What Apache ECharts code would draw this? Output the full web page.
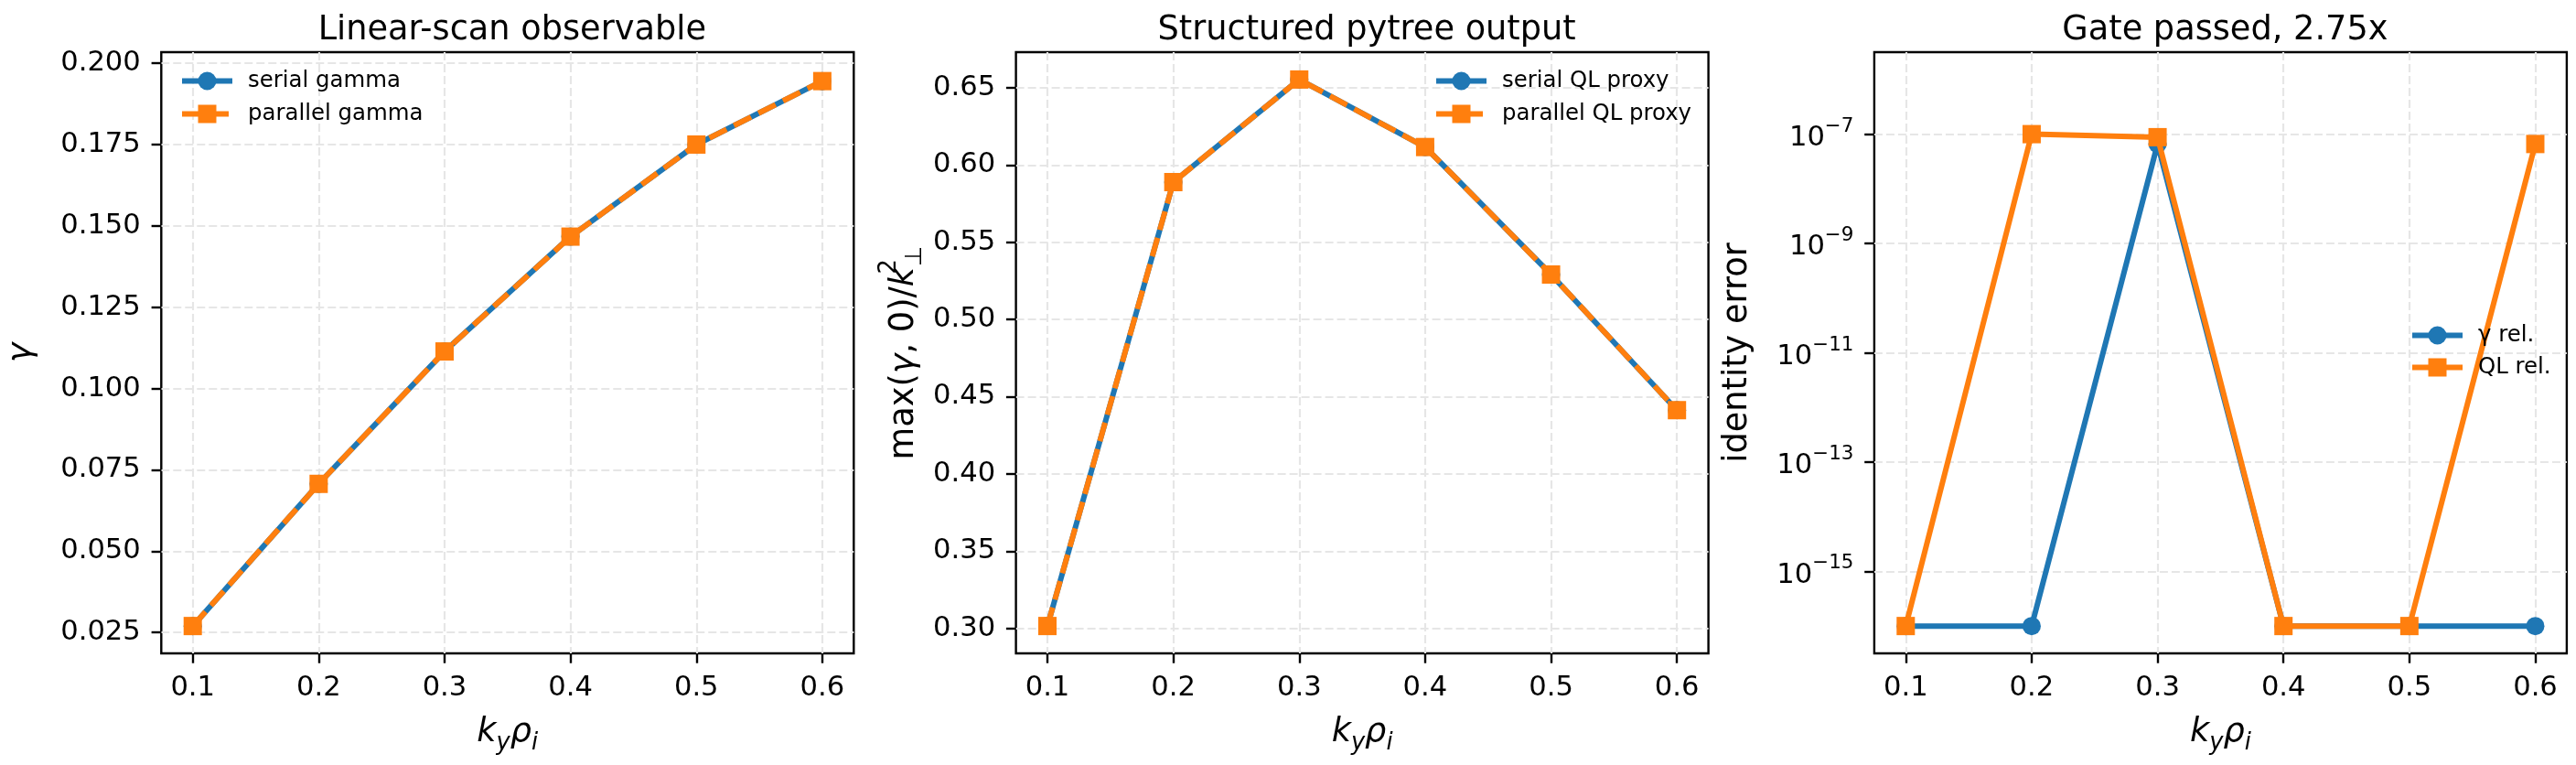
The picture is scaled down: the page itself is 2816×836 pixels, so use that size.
<!DOCTYPE html>
<html>
<head>
<meta charset="utf-8">
<script src="https://cdn.jsdelivr.net/npm/echarts@6/dist/echarts.min.js"></script>
<style>
  html, body { margin: 0; padding: 0; background: #fff; }
  #main { width: 2816px; height: 836px; }
</style>
</head>
<body>
<div id="main"></div>
<script>
// data
const kyRho = [0.1, 0.2, 0.3, 0.4, 0.5, 0.6];
const serialGamma = [0.027, 0.0707, 0.1114, 0.1467, 0.175, 0.1945];
const parallelGamma = [0.027, 0.0707, 0.1114, 0.1467, 0.175, 0.1945];
const serialQL = [0.3016, 0.5889, 0.6553, 0.6116, 0.5291, 0.4413];
const parallelQL = [0.3016, 0.5889, 0.6553, 0.6116, 0.5291, 0.4413];
const gammaRelErr = [1e-16, 1e-16, 6.6e-8, 1e-16, 1e-16, 1e-16];
const qlRelErr = [1e-16, 1.0e-7, 8.8e-8, 1e-16, 1e-16, 6.6e-8];
const gateThreshold = 1e-6;

// tick labels
const xTicks = [0.1, 0.2, 0.3, 0.4, 0.5, 0.6];
const gammaTicks = [0.025, 0.05, 0.075, 0.1, 0.125, 0.15, 0.175, 0.2];
const qlTicks = [0.3, 0.35, 0.4, 0.45, 0.5, 0.55, 0.6, 0.65];
const errTicks = [1e-15, 1e-13, 1e-11, 1e-9, 1e-7];

const FONT = "DejaVu Sans";
const BLUE = "#1f77b4";
const ORANGE = "#ff7f0e";

const pairs = (ys) => kyRho.map((x, i) => [x, ys[i]]);

// axis titles (12pt) with sub/superscripts
const big = { fontFamily: FONT, fontSize: 36.7, lineHeight: 52, color: "#000" };
const bigSmall = { fontFamily: FONT, fontSize: 25.7, lineHeight: 52, color: "#000" };
const nameRich = {
  r: { ...big },
  i: { ...big, fontStyle: "italic" },
  si: { ...bigSmall, fontStyle: "italic", verticalAlign: "bottom", height: 27 },
  s: { ...bigSmall, verticalAlign: "bottom", height: 27 },
  p0: { ...bigSmall, verticalAlign: "top", height: 21, width: 1 },
};

// log tick labels (10pt) with superscript exponent
const tickRich = {
  r: { fontFamily: FONT, fontSize: 30.6, lineHeight: 44, color: "#000" },
  p: { fontFamily: FONT, fontSize: 21.4, lineHeight: 44, color: "#000", verticalAlign: "top", height: 18 },
};

const grids = [
  { left: 176.3, top: 57, width: 757, height: 657 },
  { left: 1110.6, top: 57, width: 757, height: 657 },
  { left: 2048.9, top: 57, width: 757, height: 657 },
];

const gridLine = { show: true, lineStyle: { color: "#e6e6e6", width: 2.2, type: [9, 4] } };
const tick = { show: true, inside: false, length: 10.7, lineStyle: { color: "#000", width: 2.4 } };
const labelText = { fontFamily: FONT, fontSize: 30.6, color: "#000", lineHeight: 36 };

function xAxisFor(idx) {
  return {
    type: "value",
    gridIndex: idx,
    min: 0.075,
    max: 0.625,
    axisLine: { show: false },
    axisTick: { ...tick, customValues: xTicks },
    axisLabel: { ...labelText, margin: 20, customValues: xTicks, formatter: (v) => v.toFixed(1) },
    splitLine: gridLine,
    name: "{i|k}{si|y}{i|ρ}{si|i}",
    nameLocation: "middle",
    nameGap: 60,
    nameMoveOverlap: false,
    nameTextStyle: { rich: nameRich },
  };
}

const yAxes = [
  {
    type: "value",
    gridIndex: 0,
    min: 0.0186,
    max: 0.2034,
    axisLine: { show: false },
    axisTick: { ...tick, customValues: gammaTicks },
    axisLabel: { ...labelText, margin: 22.5, customValues: gammaTicks, formatter: (v) => v.toFixed(3) },
    splitLine: gridLine,
    name: "{i|γ}",
    nameLocation: "middle",
    nameGap: 127,
    nameMoveOverlap: false,
    nameTextStyle: { rich: nameRich },
  },
  {
    type: "value",
    gridIndex: 1,
    min: 0.2839,
    max: 0.673,
    axisLine: { show: false },
    axisTick: { ...tick, customValues: qlTicks },
    axisLabel: { ...labelText, margin: 22.5, customValues: qlTicks, formatter: (v) => v.toFixed(2) },
    splitLine: gridLine,
    name: "{r|max(}{i|γ}{r|, 0)/}{i|k}{p0|2}{s|⊥}",
    nameLocation: "middle",
    nameGap: 96.6,
    nameMoveOverlap: false,
    nameTextStyle: { rich: nameRich },
  },
  {
    type: "log",
    logBase: 10,
    gridIndex: 2,
    min: Math.pow(10, -16.5),
    max: Math.pow(10, -5.5),
    axisLine: { show: false },
    axisTick: { ...tick, customValues: errTicks },
    axisLabel: {
      margin: 22.5,
      padding: [9, 0, 0, 0],
      customValues: errTicks,
      formatter: (v) => "{r|10}{p|−" + Math.abs(Math.round(Math.log10(v))) + "}",
      rich: tickRich,
    },
    splitLine: gridLine,
    name: "{r|identity error}",
    nameLocation: "middle",
    nameGap: 123,
    nameMoveOverlap: false,
    nameTextStyle: { rich: nameRich },
  },
];

function lineSeries(name, idx, ys, color, symbol, dashed, z) {
  return {
    name,
    type: "line",
    xAxisIndex: idx,
    yAxisIndex: idx,
    data: pairs(ys),
    z,
    symbol,
    symbolSize: 20,
    showSymbol: true,
    showAllSymbol: true,
    color,
    itemStyle: { color, borderWidth: 0 },
    lineStyle: { color, width: 6, type: dashed ? [21, 9] : "solid" },
    emphasis: { disabled: true },
    animation: false,
  };
}

const gammaSeries = lineSeries("γ rel.", 2, gammaRelErr, BLUE, "circle", false, 2);
gammaSeries.markLine = {
  silent: true,
  symbol: ["none", "none"],
  label: { show: false },
  lineStyle: { color: BLUE, width: 3, type: [3, 5] },
  data: [{ yAxis: gateThreshold }],
  animation: false,
};

const legendBase = {
  orient: "vertical",
  padding: 0,
  itemWidth: 55,
  itemHeight: 25,
  itemGap: 12,
  selectedMode: false,
  lineStyle: { width: 6 },
  textStyle: { fontFamily: FONT, fontSize: 24.4, color: "#000", padding: [0, 0, 0, 12] },
};

const titleStyle = { fontFamily: FONT, fontSize: 36.7, fontWeight: "normal", color: "#000", lineHeight: 44 };

const option = {
  backgroundColor: "#fff",
  animation: false,
  title: [
    { text: "Linear-scan observable", left: 176.3 + 378.5, top: 6, textAlign: "center", textStyle: titleStyle },
    { text: "Structured pytree output", left: 1110.6 + 378.5, top: 6, textAlign: "center", textStyle: titleStyle },
    { text: "Gate passed, 2.75x", left: 2048.9 + 378.5, top: 6, textAlign: "center", textStyle: titleStyle },
  ],
  legend: [
    { ...legendBase, data: ["serial gamma", "parallel gamma"], left: 196, top: 76.5 },
    { ...legendBase, data: ["serial QL proxy", "parallel QL proxy"], left: 1567, top: 76.5 },
    { ...legendBase, data: ["γ rel.", "QL rel."], left: 2634, top: 354.5, itemGap: 11 },
  ],
  grid: grids.map((g) => ({
    ...g,
    show: true,
    borderColor: "#000",
    borderWidth: 2.4,
    backgroundColor: "transparent",
    containLabel: false,
    outerBoundsMode: "none",
  })),
  xAxis: [xAxisFor(0), xAxisFor(1), xAxisFor(2)],
  yAxis: yAxes,
  series: [
    lineSeries("serial gamma", 0, serialGamma, BLUE, "circle", false, 2),
    lineSeries("parallel gamma", 0, parallelGamma, ORANGE, "rect", true, 3),
    lineSeries("serial QL proxy", 1, serialQL, BLUE, "circle", false, 2),
    lineSeries("parallel QL proxy", 1, parallelQL, ORANGE, "rect", true, 3),
    gammaSeries,
    lineSeries("QL rel.", 2, qlRelErr, ORANGE, "rect", false, 3),
  ],
};

const chart = echarts.init(document.getElementById("main"));
chart.setOption(option);
</script>
</body>
</html>
